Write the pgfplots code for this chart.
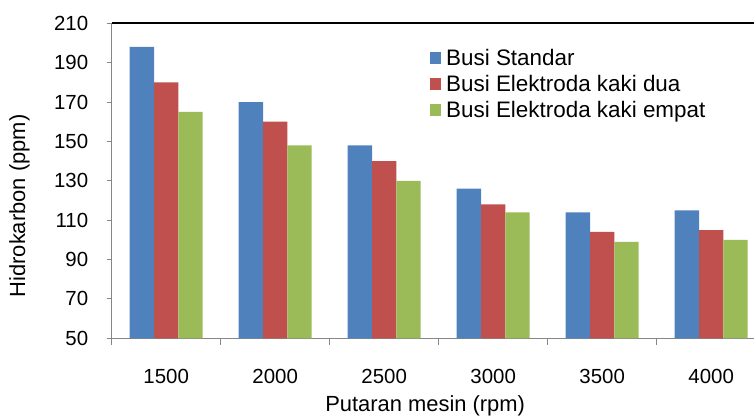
\documentclass[border=0pt]{standalone}
\usepackage{fontspec}
\setmainfont{Liberation Sans}
\usepackage{pgfplots}
\pgfplotsset{compat=1.18}
\definecolor{cblue}{HTML}{4F81BD}
\definecolor{cred}{HTML}{C0504D}
\definecolor{cgreen}{HTML}{9BBB59}
\definecolor{axgray}{HTML}{868686}
\begin{document}
\begin{tikzpicture}
\useasboundingbox (0,0) rectangle (754bp,417bp);
\begin{axis}[
  name=ax,
  at={(111.7bp,78.7bp)}, anchor=south west,
  scale only axis,
  width=642.3bp, height=315bp,
  xmin=-0.5, xmax=5.393,
  ymin=50, ymax=210,
  ytick={50,70,...,210},
  xtick={0,1,2,3,4,5},
  xticklabels={1500,2000,2500,3000,3500,4000},
  minor xtick={-0.5,0.5,1.5,2.5,3.5,4.5},
  every major x tick/.append style={draw=none},
  tick align=outside,
  major tick length=5bp,
  minor tick length=6.5bp,
  tick style={draw=axgray, line width=1bp},
  axis x line*=bottom,
  axis y line*=left,
  axis line style={draw=axgray, line width=1.2bp, -},
  /pgf/number format/assume math mode=true,
  ticklabel style={font=\fontsize{20.5}{24}\selectfont},
  yticklabel style={xshift=-15bp},
  xticklabel style={yshift=-22bp},
  xlabel={Putaran mesin (rpm)},
  ylabel={Hidrokarbon (ppm)},
  xlabel style={font=\fontsize{22}{26}\selectfont, at={(axis description cs:0.488,-0.215)}, anchor=center},
  ylabel style={font=\fontsize{22}{26}\selectfont, at={(axis description cs:-0.1435,0.42)}, anchor=center},
  ybar=0pt,
  bar width=0.223,
  legend style={at={(axis description cs:0.4945,0.915)}, anchor=north west,
    draw=none, fill=none, inner sep=0pt,
    font=\fontsize{22.5}{26}\selectfont,
    nodes={inner sep=0pt, text height=15.5bp, text depth=4bp, anchor=base west},
    row sep=6.5bp,
    /tikz/every odd column/.append style={column sep=5.3bp}},
  legend cell align=left,
  legend image code/.code={\fill[#1] (0,2bp) rectangle (11.4bp,13.4bp);},
]
\addplot[fill=cblue, draw=none] coordinates {(0,198) (1,170) (2,148) (3,126) (4,114) (5,115)};
\addplot[fill=cred, draw=none] coordinates {(0,180) (1,160) (2,140) (3,118) (4,104) (5,105)};
\addplot[fill=cgreen, draw=none] coordinates {(0,165) (1,148) (2,130) (3,114) (4,99) (5,100)};
\legend{Busi Standar, Busi Elektroda kaki dua, Busi Elektroda kaki empat}
\end{axis}
\draw[black, line width=2bp] (ax.north west) -- (ax.north east);
\end{tikzpicture}
\end{document}
